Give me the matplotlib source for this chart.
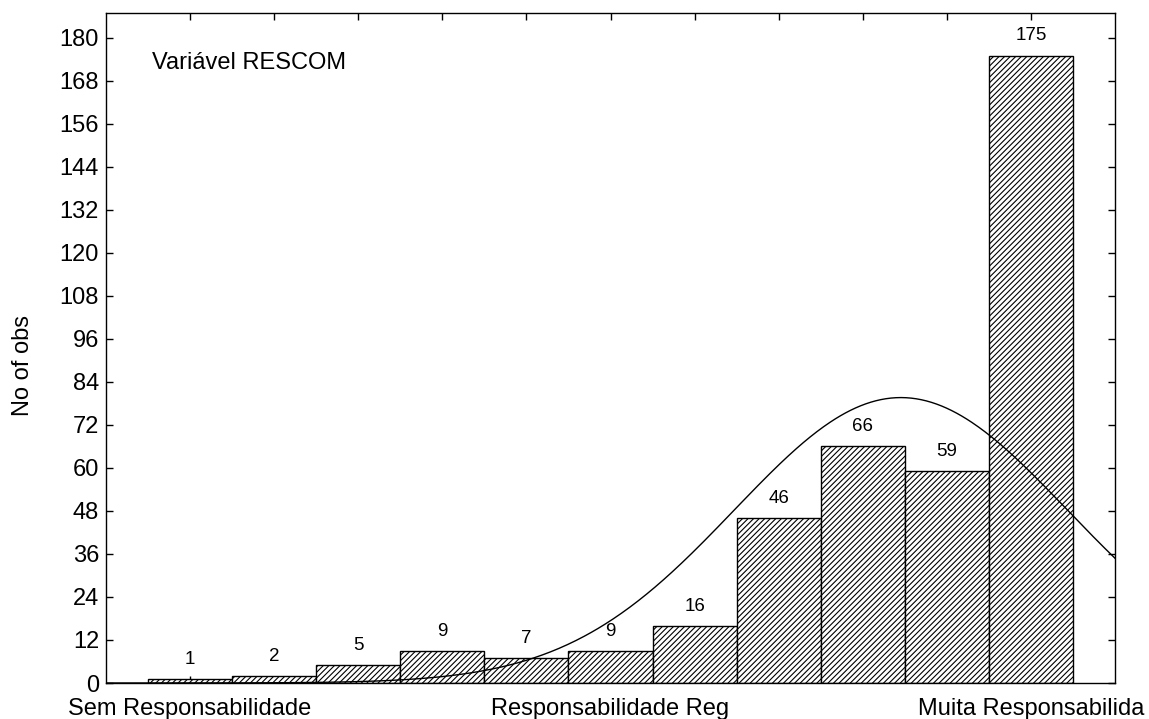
import numpy as np
import matplotlib
matplotlib.use("Agg")
import matplotlib.pyplot as plt

counts = [1, 2, 5, 9, 7, 9, 16, 46, 66, 59, 175]
tick_labels = ["Sem Responsabilidade", "Responsabilidade Reg", "Muita Responsabilida"]
tick_label_pos = [0, 5, 10]
title_text = "Variável RESCOM"
ylabel = "No of obs"

plt.rcParams['font.family'] = ['Liberation Sans', 'DejaVu Sans']
plt.rcParams['hatch.linewidth'] = 0.8

fig = plt.figure(figsize=(11.49, 7.19), dpi=100)
ax = fig.add_axes([106/1149, 1 - 683/719, (1115-106)/1149, (683-12.5)/719])

x = np.arange(len(counts))
ax.bar(x, counts, width=1.0, color='white', edgecolor='black', hatch='//////', linewidth=1.0, zorder=2)

for xi, c in zip(x, counts):
    ax.annotate(str(c), (xi, c), xytext=(0, 8), textcoords='offset points',
                ha='center', va='bottom', fontsize=13.5)

# fitted normal curve
cnt = np.array(counts, dtype=float)
n = cnt.sum()
mu = (x * cnt).sum() / n
sd = np.sqrt(((x - mu) ** 2 * cnt).sum() / n)
xx = np.linspace(-1, 11, 600)
yy = n / (sd * np.sqrt(2 * np.pi)) * np.exp(-0.5 * ((xx - mu) / sd) ** 2)
ax.plot(xx, yy, color='black', linewidth=1.0, zorder=3)

ax.set_xlim(-1, 11)
ax.set_ylim(0, 187)
ax.set_yticks(np.arange(0, 181, 12))
ax.set_xticks(x, minor=False)
ax.set_xticklabels([''] * len(x))
ax.tick_params(axis='both', direction='in', length=5, width=1, top=True, right=True, labelsize=17, pad=5)
for lbl, pos in zip(tick_labels, tick_label_pos):
    ax.text(pos, -0.022, lbl, transform=ax.get_xaxis_transform(), ha='center', va='top', fontsize=17)

ax.set_ylabel(ylabel, fontsize=17)
ax.yaxis.set_label_coords(-0.071, 0.474)
ax.text(0.046, 0.925, title_text, transform=ax.transAxes, ha='left', va='center', fontsize=17)
for s in ax.spines.values():
    s.set_linewidth(1.0)

fig.savefig("out.png", dpi=100)
